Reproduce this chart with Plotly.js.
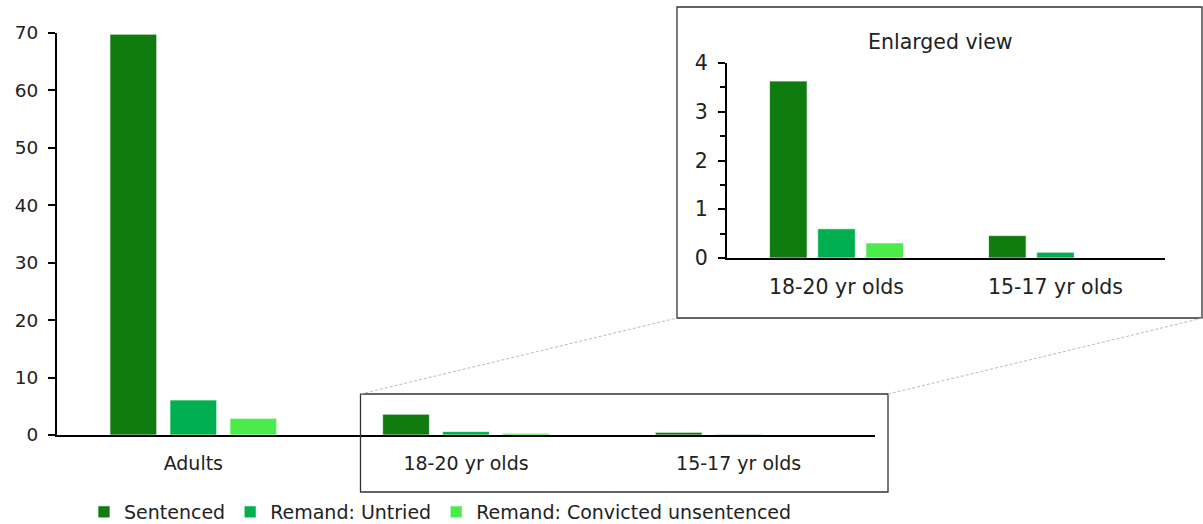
<!DOCTYPE html>
<html>
<head>
<meta charset="utf-8">
<script src="https://cdn.plot.ly/plotly-3.0.1.min.js"></script>
<style>
html,body{margin:0;padding:0;background:#fff;overflow:hidden;}
#chart{width:1203px;height:524px;overflow:hidden;}
</style>
</head>
<body>
<div id="chart"></div>
<script>
// ---- data ----
const categories = ['Adults', '18-20 yr olds', '15-17 yr olds'];
const insetCategories = ['18-20 yr olds', '15-17 yr olds'];
const sentenced = [69.8, 3.63, 0.46];
const remandUntried = [6.1, 0.6, 0.12];
const remandConvicted = [2.9, 0.31, 0.0];
const seriesNames = ['Sentenced', 'Remand: Untried', 'Remand: Convicted unsentenced'];
const yTicksMain = [0, 10, 20, 30, 40, 50, 60, 70];
const yTicksInset = [0, 1, 2, 3, 4];

// ---- styling / layout helpers ----
const W = 1203, H = 524;
const px = v => v / W;
const py = v => 1 - v / H;
const colors = ['#107c10', '#00b050', '#4ceb4c'];
const FAMILY = 'DejaVu Sans, Open Sans, sans-serif';
const font = { family: FAMILY, color: '#222', size: 19 };
const allSeries = [sentenced, remandUntried, remandConvicted];

const traces = [];
allSeries.forEach((vals, i) => {
  traces.push({
    type: 'bar', name: seriesNames[i], x: categories, y: vals,
    marker: { color: colors[i], line: { color: 'rgba(255,255,255,0.7)', width: 1 } },
    xaxis: 'x', yaxis: 'y', hoverinfo: 'x+y+name'
  });
});
allSeries.forEach((vals, i) => {
  traces.push({
    type: 'bar', name: seriesNames[i], x: insetCategories, y: vals.slice(1),
    marker: { color: colors[i], line: { color: 'rgba(255,255,255,0.7)', width: 1 } },
    xaxis: 'x2', yaxis: 'y2', showlegend: false
  });
});

const axisLine = { showline: true, linecolor: '#000', linewidth: 2, showgrid: false, zeroline: false };

const layout = {
  width: W, height: H, autosize: false,
  margin: { l: 0, r: 0, t: 0, b: 0, pad: 0, autoexpand: false },
  paper_bgcolor: '#fff', plot_bgcolor: 'rgba(0,0,0,0)',
  font: font,
  barmode: 'group', bargap: 0.34, bargroupgap: 0.22,
  showlegend: true,
  legend: {
    orientation: 'h', x: px(84), xanchor: 'left', y: py(512), yanchor: 'middle',
    font: { family: FAMILY, size: 19, color: '#222' }, bgcolor: 'rgba(0,0,0,0)'
  },
  xaxis: Object.assign({}, axisLine, {
    domain: [px(57), px(875)], anchor: 'y', type: 'category',
    categoryorder: 'array', categoryarray: categories, range: [-0.5, 2.5],
    ticks: '', ticklabelstandoff: 10, tickfont: { size: 19 }, automargin: false
  }),
  yaxis: Object.assign({}, axisLine, {
    domain: [py(435), py(33)], anchor: 'x', range: [0, 70],
    tickvals: yTicksMain, ticks: 'outside', ticklen: 7, tickwidth: 2, tickcolor: '#000',
    ticklabelstandoff: 6, tickfont: { size: 18.5 }, automargin: false
  }),
  xaxis2: Object.assign({}, axisLine, {
    domain: [px(727), px(1165)], anchor: 'y2', type: 'category',
    categoryorder: 'array', categoryarray: insetCategories, range: [-0.5, 1.5],
    ticks: '', ticklabelstandoff: 9, tickfont: { size: 20.5 }, automargin: false
  }),
  yaxis2: Object.assign({}, axisLine, {
    domain: [py(258), py(63)], anchor: 'x2', range: [0, 4],
    tickvals: yTicksInset, ticks: 'outside', ticklen: 7, tickwidth: 2, tickcolor: '#000',
    minor: { dtick: 0.5, ticks: 'outside', ticklen: 5, tickwidth: 2, tickcolor: '#000', showgrid: false },
    ticklabelstandoff: 6, tickfont: { size: 20.5 }, automargin: false
  }),
  annotations: [{
    text: 'Enlarged view', xref: 'paper', yref: 'paper', x: px(940), y: py(42),
    showarrow: false, xanchor: 'center', yanchor: 'middle', font: { size: 20.5, color: '#222' }
  }],
  shapes: [
    { type: 'rect', xref: 'paper', yref: 'paper', x0: px(677), x1: px(1202), y0: py(318), y1: py(7),
      line: { color: '#333', width: 1.3 } },
    { type: 'rect', xref: 'paper', yref: 'paper', x0: px(360.5), x1: px(888), y0: py(492), y1: py(394),
      line: { color: '#333', width: 1.3 } },
    { type: 'line', xref: 'paper', yref: 'paper', x0: px(360.5), y0: py(394), x1: px(677), y1: py(318),
      line: { color: '#bbb', width: 1, dash: '3px,2px' } },
    { type: 'line', xref: 'paper', yref: 'paper', x0: px(888), y0: py(394), x1: px(1203), y1: py(318),
      line: { color: '#bbb', width: 1, dash: '3px,2px' } }
  ]
};

Plotly.newPlot('chart', traces, layout, { displayModeBar: false, staticPlot: true });
</script>
</body>
</html>
